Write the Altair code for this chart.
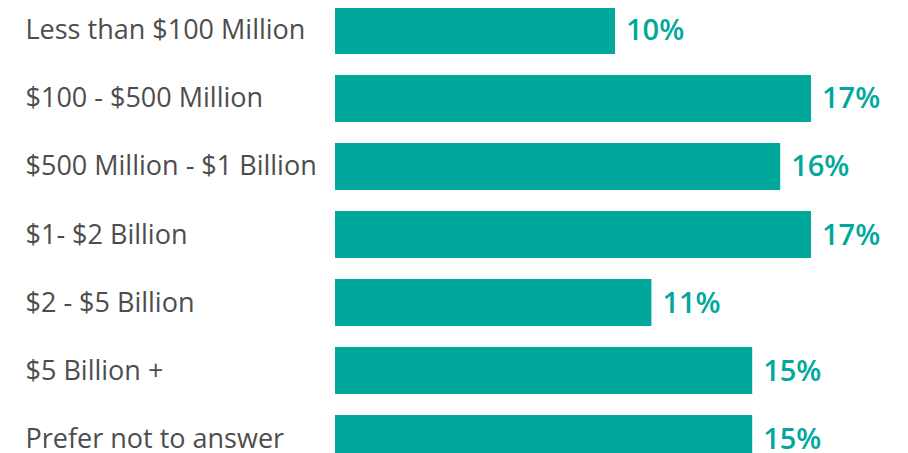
import altair as alt
import pandas as pd

categories = [
    "Less than $100 Million",
    "$100 - $500 Million",
    "$500 Million - $1 Billion",
    "$1- $2 Billion",
    "$2 - $5 Billion",
    "$5 Billion +",
    "Prefer not to answer",
]
values = [10.0, 17.0, 15.9, 17.0, 11.3, 14.9, 14.9]
labels = ["10%", "17%", "16%", "17%", "11%", "15%", "15%"]

df = pd.DataFrame({"cat": categories, "val": values, "lab": labels})

TEAL = "#00a89c"
FONT = "Open Sans"

y = alt.Y(
    "cat:N",
    sort=categories,
    scale=alt.Scale(range=[-1, 454], paddingInner=0.31, paddingOuter=0),
    axis=alt.Axis(
        title=None, domain=False, ticks=False, grid=False,
        labelAlign="left", labelPadding=310, labelFont=FONT,
        labelFontSize=27, labelColor="#4d4d4d", labelLimit=400,
        labelBaseline="middle", labelOffset=1,
    ),
)
x = alt.X("val:Q", scale=alt.Scale(domain=[0, 20]), axis=None)

bars = alt.Chart(df).mark_bar(color=TEAL, clip=True).encode(x=x, y=y)
text = alt.Chart(df).mark_text(
    align="left", baseline="middle", dx=11, dy=1, font=FONT, fontSize=29,
    fontWeight=600, color=TEAL,
).encode(x=x, y=y, text="lab:N")

chart = (
    (bars + text)
    .properties(
        width=560, height=445,
        autosize=alt.AutoSizeParams(type="none"),
        padding={"left": 327, "top": 0, "right": 0, "bottom": 0},
        background="white",
    )
    .configure_view(stroke=None)
)

chart.save("out.html", embed_options={"renderer": "svg", "actions": False})
